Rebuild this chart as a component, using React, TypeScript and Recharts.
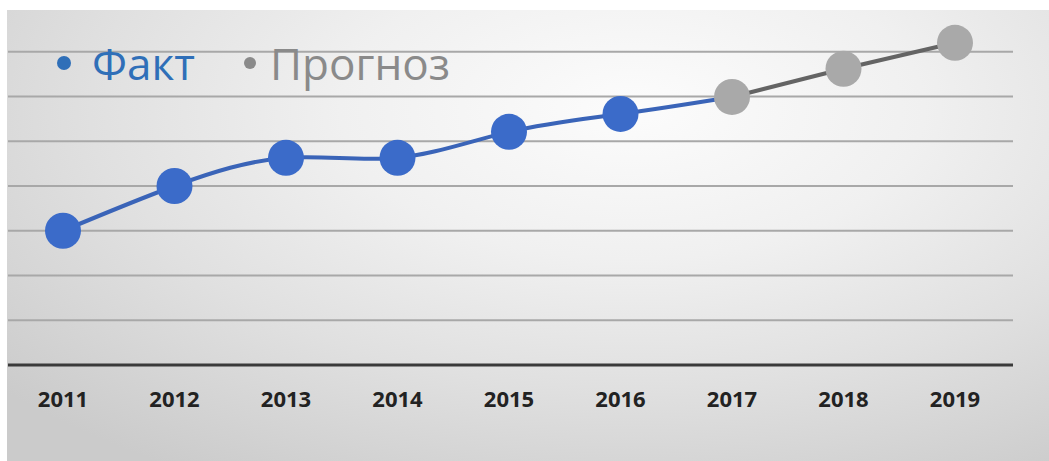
import React from 'react'
import { LineChart, Line, XAxis, YAxis, CartesianGrid } from 'recharts'

// years on the axis
const years = ['2011', '2012', '2013', '2014', '2015', '2016', '2017', '2018', '2019']
// actual values (2017 carries the joint point to the forecast)
const fact = [3.0, 4.0, 4.63, 4.63, 5.21, 5.61, 5.99, null, null]
// forecast values
const forecast = [null, null, null, null, null, null, 5.99, 6.62, 7.2]
const gridTicks = [0, 1, 2, 3, 4, 5, 6, 7]
const yMax = 8

const data = years.map((y, i) => ({ year: y, fact: fact[i], forecast: forecast[i] }))

const BLUE = '#3b6bc9'
const GRAY_DOT = '#a9a9a9'

function FactDot(props: any) {
  const { cx, cy, index } = props
  if (index === 6 || cy == null) return <g key={'fd' + index} />
  return <circle key={'fd' + index} cx={cx} cy={cy} r={18} fill={BLUE} />
}

// grid rows only at the value ticks (no extra line at the top of the domain)
function gridRows(p: any) {
  const s = p?.yAxis?.scale
  if (typeof s === 'function') return gridTicks.map((t) => s(t))
  if (s && typeof s.map === 'function') return gridTicks.map((t) => s.map(t))
  const top = p.offset.top
  const h = p.offset.height
  return gridTicks.map((t) => top + h * (1 - t / yMax))
}

function App() {
  return (
    <div style={{ position: 'absolute', left: 0, top: 0, width: 1049, height: 461, background: '#fff' }}>
      <div
        style={{
          position: 'absolute',
          left: 7,
          top: 10,
          width: 1042,
          height: 451,
          background:
            'radial-gradient(ellipse 80% 95% at 60% 22%, #fcfcfc 0%, #f0f0f0 35%, #e0e0e0 65%, #cbcbcb 100%)',
        }}
      />
      <div style={{ position: 'absolute', left: 0, top: 0 }}>
        <LineChart width={1049} height={461} data={data} margin={{ top: 7, right: 36, left: 8, bottom: 56 }}>
          <CartesianGrid vertical={false} stroke="#a8a8a8" strokeWidth={2} horizontalCoordinatesGenerator={gridRows} />
          <XAxis
            dataKey="year"
            height={40}
            padding={{ left: 55, right: 58 }}
            axisLine={{ stroke: '#3a3a3a', strokeWidth: 3 }}
            tickLine={false}
            tickSize={0}
            tickMargin={26}
            tick={{ fill: '#222', fontSize: 22, fontWeight: 700, fontFamily: 'Open Sans' }}
          />
          <YAxis hide domain={[0, yMax]} ticks={gridTicks} />
          <Line
            type="natural"
            dataKey="fact"
            stroke="#3a64b8"
            strokeWidth={4}
            dot={FactDot}
            activeDot={false}
            connectNulls={false}
            isAnimationActive={false}
          />
          <Line
            type="linear"
            dataKey="forecast"
            stroke="#646464"
            strokeWidth={4}
            dot={{ r: 18, fill: GRAY_DOT, stroke: 'none' }}
            activeDot={false}
            isAnimationActive={false}
          />
        </LineChart>
      </div>
      <svg width={1049} height={461} style={{ position: 'absolute', left: 0, top: 0, pointerEvents: 'none' }}>
        <g fontFamily="Open Sans" fontSize={44}>
          <circle cx={64} cy={63} r={7} fill="#2f6fb8" />
          <text x={92} y={80} fill="#2f6fb8">Факт</text>
          <circle cx={250} cy={63} r={6} fill="#8a8a8a" />
          <text x={270} y={80} fill="#8a8a8a">Прогноз</text>
        </g>
      </svg>
    </div>
  )
}

export default App
